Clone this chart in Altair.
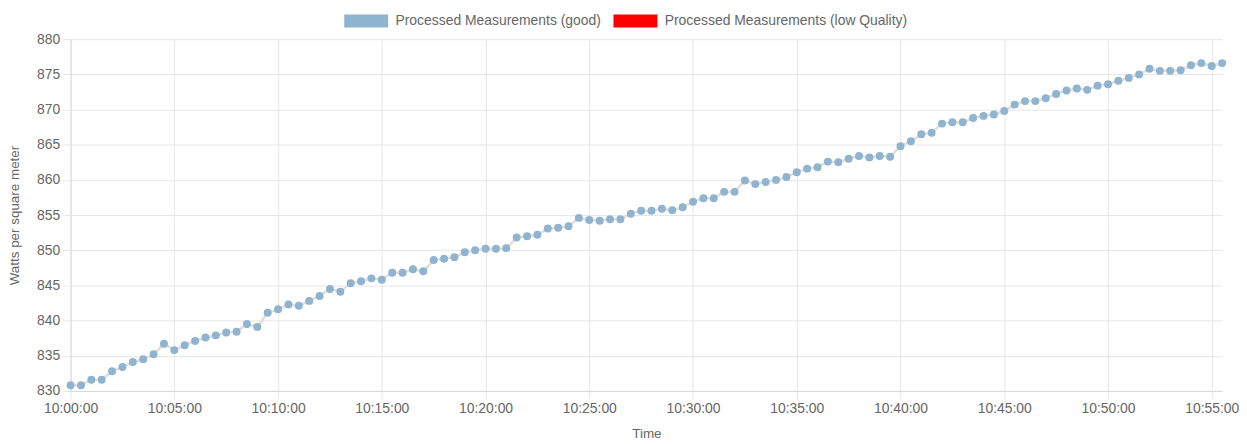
import altair as alt
import pandas as pd

# Measured values (W/m²), one every 30 seconds from 10:00:00
values = [
    830.8, 830.8, 831.6, 831.6, 832.8, 833.4, 834.1, 834.5, 835.2, 836.7,
    835.8, 836.5, 837.1, 837.6, 837.9, 838.3, 838.4, 839.5, 839.1, 841.1,
    841.6, 842.3, 842.1, 842.8, 843.5, 844.5, 844.1, 845.3, 845.6, 846.0,
    845.8, 846.8, 846.8, 847.3, 847.0, 848.6, 848.8, 849.0, 849.7, 850.0,
    850.2, 850.2, 850.3, 851.8, 852.0, 852.2, 853.1, 853.2, 853.4, 854.6,
    854.3, 854.2, 854.4, 854.4, 855.2, 855.6, 855.6, 855.9, 855.7, 856.1,
    856.9, 857.4, 857.4, 858.3, 858.3, 859.9, 859.4, 859.7, 860.0, 860.4,
    861.1, 861.6, 861.8, 862.6, 862.5, 863.0, 863.4, 863.2, 863.4, 863.3,
    864.8, 865.5, 866.5, 866.7, 868.0, 868.2, 868.2, 868.8, 869.1, 869.3,
    869.8, 870.7, 871.2, 871.2, 871.6, 872.2, 872.7, 873.0, 872.8, 873.4,
    873.6, 874.1, 874.5, 875.0, 875.8, 875.5, 875.5, 875.6, 876.3, 876.6,
    876.2, 876.6,
]
series_names = ["Processed Measurements (good)", "Processed Measurements (low Quality)"]
series_colors = ["#8fb4d0", "#ff0000"]
y_ticks = [830, 835, 840, 845, 850, 855, 860, 865, 870, 875, 880]
x_tick_minutes = [0, 5, 10, 15, 20, 25, 30, 35, 40, 45, 50, 55]

times = pd.date_range("2021-06-01 10:00:00", periods=len(values), freq="30s").strftime("%Y-%m-%dT%H:%M:%S")
df = pd.DataFrame({"time": list(times), "value": values, "series": series_names[0]})

FONT = "Liberation Sans"
GREY = "#666666"


def dt(m, s=0):
    return alt.DateTime(year=2021, month=6, date=1, hours=10, minutes=m, seconds=s)


x_enc = alt.X(
    "time:T",
    title="Time",
    scale=alt.Scale(domain=[dt(0), dt(55, 30)]),
    axis=alt.Axis(
        format="%H:%M:%S",
        values=[dt(m) for m in x_tick_minutes],
        labelFlush=False,
        labelPadding=3,
        titlePadding=11,
    ),
)
y_enc = alt.Y(
    "value:Q",
    title="Watts per square meter",
    scale=alt.Scale(domain=[830, 880], nice=False, zero=False),
    axis=alt.Axis(values=y_ticks, labelPadding=3, titlePadding=11, minExtent=38),
)

line = alt.Chart(df).mark_line(color="#e6dcd8", strokeWidth=2.5).encode(x=x_enc, y=y_enc)

points = alt.Chart(df).mark_point(filled=True, opacity=1, size=64, shape="circle").encode(
    x=x_enc,
    y=y_enc,
    color=alt.Color(
        "series:N",
        scale=alt.Scale(domain=series_names, range=series_colors),
        legend=alt.Legend(
            title=None,
            orient="none",
            direction="horizontal",
            legendX=286,
            legendY=-30,
            padding=4,
            symbolType="M-3.4,-1L3.4,-1L3.4,1L-3.4,1Z",
            symbolSize=169,
            symbolOpacity=1,
            labelFont=FONT,
            labelFontSize=14,
            labelColor=GREY,
            labelLimit=400,
            columnPadding=12,
            labelOffset=22,
        ),
    ),
)

chart = (
    alt.layer(line, points)
    .properties(width=1159, height=354, padding=0)
    .configure_view(stroke="transparent")
    .configure_axis(
        gridColor="#e6e6e6",
        domainColor="#d9d9d9",
        tickColor="#e6e6e6",
        tickSize=8,
        labelFont=FONT,
        labelFontSize=14,
        labelColor=GREY,
        titleFont=FONT,
        titleFontSize=13.5,
        titleColor=GREY,
        titleFontWeight="normal",
    )
)

chart.save("out.html", embed_options={"renderer": "svg", "actions": False})
